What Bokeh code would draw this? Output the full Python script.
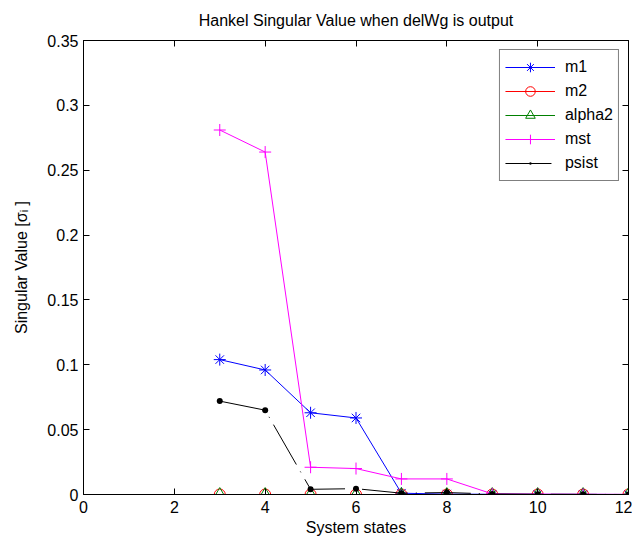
from bokeh.plotting import figure
from bokeh.models import Range1d, FixedTicker, LinearAxis, CustomJSTickFormatter
from bokeh.embed import file_html
from bokeh.resources import INLINE

# ---- data ----
states = [3, 4, 5, 6, 7, 8, 9, 10, 11, 12]
m1 = [0.104, 0.096, 0.063, 0.059, 0.001, 0.0003, 0.0002, 0.0001, 0.0001, 0.0]
m2 = [0.0, 0.0, 0.0, 0.0, 0.0, 0.0, 0.0, 0.0, 0.0, 0.0]
alpha2 = [0.0, 0.0, 0.0, 0.0, 0.0, 0.0, 0.0, 0.0, 0.0, 0.0]
mst = [0.281, 0.264, 0.021, 0.020, 0.012, 0.012, 0.0005, 0.0003, 0.0002, 0.0001]
psist = [0.072, 0.065, 0.004, 0.0045, 0.001, 0.0015, 0.0004, 0.0002, 0.0001, 0.0]

x_ticks = [0, 2, 4, 6, 8, 10, 12]
y_ticks = [0, 0.05, 0.1, 0.15, 0.2, 0.25, 0.3, 0.35]
y_tick_labels = ["0", "0.05", "0.1", "0.15", "0.2", "0.25", "0.3", "0.35"]

FONT = "Liberation Sans"
FS = "16px"

p = figure(width=632, height=540, output_backend="svg", toolbar_location=None,
           x_range=Range1d(0, 12), y_range=Range1d(0, 0.35),
           min_border_left=83, min_border_right=4, min_border_top=40, min_border_bottom=46,
           background_fill_color="white", border_fill_color="white")

p.title.text = "Hankel Singular Value when delWg is output"
p.title.align = "center"
p.title.vertical_align = "top"
p.title.text_font = FONT
p.title.text_font_size = FS
p.title.text_font_style = "normal"
p.title.text_color = "black"
p.title.standoff = 20

p.outline_line_color = "black"
p.outline_line_width = 1
p.xgrid.visible = False
p.ygrid.visible = False

for ax in (p.xaxis[0], p.yaxis[0]):
    ax.major_tick_in = 6
    ax.major_tick_out = 0
    ax.minor_tick_in = 0
    ax.minor_tick_out = 0
    ax.axis_line_color = "black"
    ax.major_tick_line_color = "black"
    ax.major_label_text_font = FONT
    ax.major_label_text_font_size = FS
    ax.major_label_text_color = "black"
    ax.axis_label_text_font = FONT
    ax.axis_label_text_font_size = FS
    ax.axis_label_text_font_style = "normal"
    ax.axis_label_text_color = "black"

p.xaxis[0].ticker = FixedTicker(ticks=x_ticks)
p.yaxis[0].ticker = FixedTicker(ticks=y_ticks)
p.yaxis[0].major_label_overrides = {t: l for t, l in zip(y_ticks, y_tick_labels)}
p.xaxis[0].axis_label = "System states"
p.yaxis[0].axis_label = "Singular Value [σᵢ ]"
p.xaxis[0].major_label_standoff = 6
p.xaxis[0].axis_label_standoff = 3
p.yaxis[0].axis_label_standoff = 14

# box ticks on top and right (no labels)
blank = CustomJSTickFormatter(code="return '';")
top = LinearAxis(ticker=FixedTicker(ticks=x_ticks), formatter=blank,
                 major_tick_in=6, major_tick_out=0, minor_tick_in=0, minor_tick_out=0,
                 major_label_standoff=0, axis_label_standoff=0, axis_line_color="black")
right = LinearAxis(ticker=FixedTicker(ticks=y_ticks), formatter=blank,
                   major_tick_in=6, major_tick_out=0, minor_tick_in=0, minor_tick_out=0,
                   major_label_standoff=0, axis_label_standoff=0, axis_line_color="black")
p.add_layout(top, "above")
p.add_layout(right, "right")

# series
p.line(states, m1, color="blue", line_width=1, legend_label="m1")
p.scatter(states, m1, marker="asterisk", size=12, line_color="blue", line_width=1, legend_label="m1")

p.line(states, m2, color="red", line_width=1, legend_label="m2")
p.scatter(states, m2, marker="circle", size=11, line_color="red", fill_color=None, line_width=1, legend_label="m2")

p.line(states, alpha2, color="green", line_width=1, legend_label="alpha2")
p.scatter(states, alpha2, marker="triangle", size=12, line_color="green", fill_color=None, line_width=1, legend_label="alpha2")

p.line(states, mst, color="magenta", line_width=1, legend_label="mst")
p.scatter(states, mst, marker="cross", size=12, line_color="magenta", line_width=1, legend_label="mst")

p.line(states, psist, color="black", line_width=1, line_dash="46 8 1 8", legend_label="psist")
p.scatter(states, psist, marker="dot", size=24, line_color="black", fill_color="black", line_width=1.5, legend_label="psist")

lg = p.legend[0]
lg.location = "top_right"
lg.margin = 9
lg.padding = 5
lg.spacing = 0
lg.glyph_width = 50
lg.glyph_height = 24
lg.label_height = 24
lg.label_standoff = 10
lg.label_text_font = FONT
lg.label_text_font_size = FS
lg.label_text_color = "black"
lg.border_line_color = "black"
lg.border_line_width = 1
lg.background_fill_color = "white"
lg.background_fill_alpha = 1

open("out.html", "w").write(file_html(p, INLINE))
